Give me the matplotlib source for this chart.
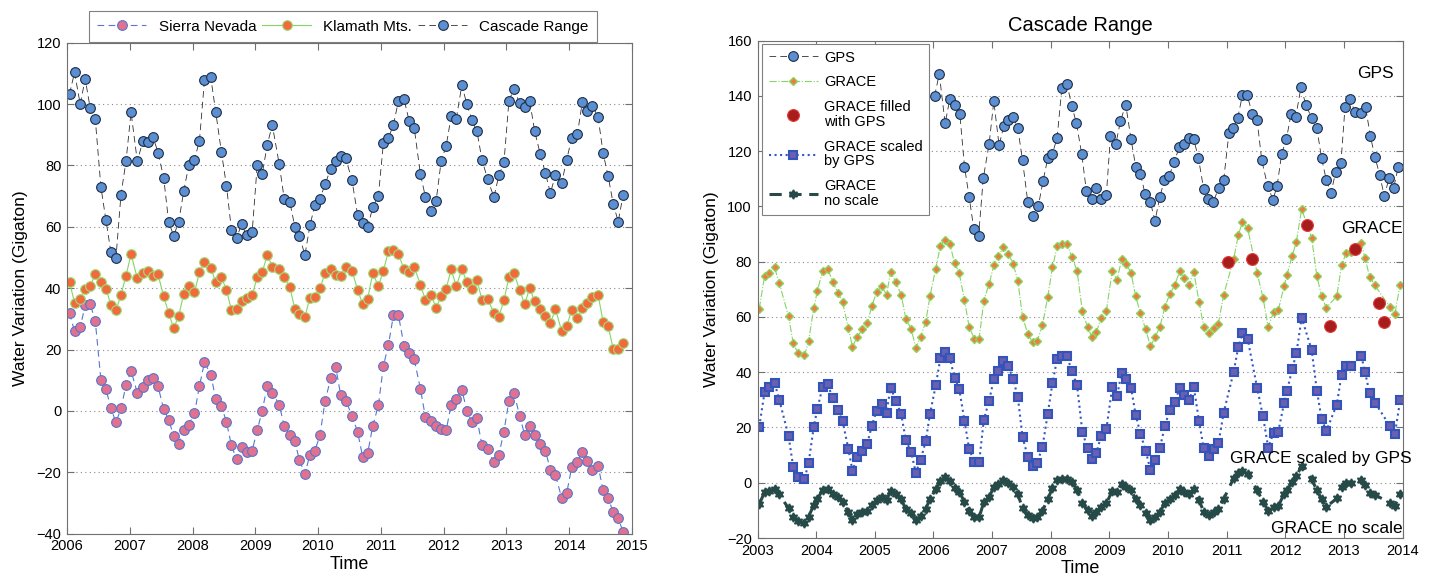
import matplotlib
matplotlib.use('Agg')
import matplotlib.pyplot as plt

plt.rcParams['font.family'] = ['Liberation Sans', 'DejaVu Sans']
plt.rcParams['axes.unicode_minus'] = True

# ---------------- Left panel data (shared epochs) ----------------
left_time = [
    2006.04, 2006.12, 2006.21, 2006.29, 2006.37, 2006.45, 2006.54, 2006.62, 2006.70, 2006.78, 2006.86, 2006.94,
    2007.02, 2007.12, 2007.21, 2007.29, 2007.37, 2007.45, 2007.54, 2007.62, 2007.70, 2007.78, 2007.86, 2007.94,
    2008.03, 2008.11, 2008.19, 2008.29, 2008.37, 2008.46, 2008.54, 2008.62, 2008.70, 2008.78, 2008.86, 2008.95,
    2009.03, 2009.11, 2009.19, 2009.27, 2009.38, 2009.46, 2009.55, 2009.63, 2009.70, 2009.79, 2009.87, 2009.95,
    2010.03, 2010.11, 2010.20, 2010.28, 2010.36, 2010.44, 2010.54, 2010.63, 2010.71, 2010.79, 2010.87, 2010.96,
    2011.04, 2011.12, 2011.20, 2011.28, 2011.37, 2011.45, 2011.53, 2011.63, 2011.71, 2011.80, 2011.88, 2011.96,
    2012.04, 2012.12, 2012.20, 2012.29, 2012.37, 2012.45, 2012.53, 2012.61, 2012.70, 2012.80, 2012.88, 2012.96,
    2013.04, 2013.12, 2013.21, 2013.29, 2013.37, 2013.45, 2013.54, 2013.62, 2013.70, 2013.78, 2013.88, 2013.96,
    2014.04, 2014.13, 2014.21, 2014.29, 2014.37, 2014.46, 2014.54, 2014.62, 2014.70, 2014.78, 2014.86]

sierra_nevada = [
    31.9, 26.0, 27.3, 34.4, 34.8, 29.4, 10.1, 7.2, 0.8, -3.7, 0.8, 8.4,
    13.1, 5.9, 7.7, 10.1, 10.6, 8.1, 0.5, -2.8, -8.3, -10.8, -6.3, -4.5,
    -0.8, 8.1, 15.9, 11.8, 3.9, 1.7, -3.7, -11.2, -15.8, -11.7, -13.3, -12.9,
    -6.3, 0.1, 8.1, 5.9, 2.1, -4.9, -7.8, -9.9, -15.9, -20.5, -14.2, -12.9,
    -7.8, 3.1, 10.6, 14.3, 5.2, 3.4, -1.5, -6.9, -15.0, -13.7, -4.9, 1.8,
    14.7, 21.5, 31.2, 31.2, 21.1, 19.0, 16.9, 7.2, -2.1, -3.3, -4.9, -5.8,
    -6.3, 2.1, 3.9, 6.8, 0.1, -3.7, -2.4, -11.2, -12.5, -16.6, -14.2, -6.7,
    3.4, 5.9, -1.5, -7.8, -4.9, -7.8, -10.8, -12.9, -19.2, -20.9, -28.3, -26.7,
    -18.4, -16.6, -13.3, -16.2, -19.3, -17.9, -25.8, -28.3, -33.0, -35.0, -39.5]

klamath_mts = [
    42.0, 35.3, 36.6, 39.9, 40.7, 44.5, 42.0, 39.9, 34.5, 32.8, 37.8, 44.1,
    51.1, 43.2, 44.9, 45.7, 44.1, 44.5, 37.3, 31.9, 26.9, 31.1, 38.2, 40.7,
    38.6, 45.2, 48.6, 46.6, 42.0, 43.6, 39.4, 32.8, 33.2, 35.7, 36.9, 37.8,
    43.6, 45.2, 50.9, 47.0, 46.1, 43.6, 40.3, 33.2, 31.6, 30.7, 36.9, 37.0,
    40.0, 44.9, 46.1, 44.4, 44.1, 47.0, 45.7, 39.4, 34.8, 36.6, 44.9, 40.7,
    45.7, 52.0, 52.4, 51.1, 46.1, 45.2, 47.0, 41.1, 36.1, 37.8, 33.6, 37.3,
    39.9, 46.1, 40.7, 46.1, 42.0, 39.9, 42.8, 36.1, 36.6, 31.9, 30.7, 36.1,
    43.6, 44.9, 39.4, 34.8, 40.0, 35.7, 33.2, 31.1, 28.5, 33.2, 26.0, 27.7,
    32.8, 30.3, 33.6, 35.3, 37.0, 37.8, 29.0, 27.7, 20.3, 20.3, 22.0]

cascade_range = [
    103.3, 110.3, 100.0, 108.2, 98.6, 95.2, 73.0, 62.2, 51.7, 49.9, 70.5, 81.4,
    97.3, 81.4, 88.0, 87.6, 89.3, 84.2, 76.0, 61.5, 57.1, 61.7, 71.7, 80.1,
    81.8, 88.1, 107.8, 108.7, 97.3, 84.3, 73.4, 58.9, 56.2, 60.9, 57.2, 58.4,
    80.1, 77.2, 86.8, 93.2, 80.5, 69.2, 68.0, 60.0, 57.1, 50.8, 60.5, 67.2,
    69.2, 73.8, 78.9, 81.4, 83.0, 82.3, 75.1, 63.8, 61.3, 60.0, 66.3, 70.1,
    87.3, 89.0, 93.2, 101.1, 101.5, 94.5, 92.3, 77.2, 69.7, 65.2, 68.5, 81.4,
    86.4, 96.1, 95.2, 106.2, 99.9, 94.8, 91.1, 81.9, 75.5, 69.7, 76.8, 81.0,
    101.1, 104.9, 100.3, 99.0, 101.1, 91.1, 83.6, 77.6, 71.0, 76.8, 74.3, 81.9,
    89.0, 90.2, 100.8, 97.8, 99.5, 95.7, 84.0, 76.5, 67.6, 61.7, 70.5]

# ---------------- Right panel data ----------------
gps_time = [
    2006.02, 2006.10, 2006.20, 2006.28, 2006.37, 2006.45, 2006.53, 2006.61, 2006.69, 2006.77, 2006.85, 2006.95,
    2007.03, 2007.12, 2007.20, 2007.28, 2007.36, 2007.44, 2007.52, 2007.61, 2007.69, 2007.79, 2007.87, 2007.95,
    2008.03, 2008.11, 2008.19, 2008.28, 2008.36, 2008.44, 2008.53, 2008.61, 2008.70, 2008.78, 2008.86, 2008.95,
    2009.02, 2009.11, 2009.19, 2009.28, 2009.37, 2009.45, 2009.53, 2009.61, 2009.70, 2009.78, 2009.86, 2009.94,
    2010.02, 2010.11, 2010.19, 2010.28, 2010.36, 2010.44, 2010.52, 2010.61, 2010.69, 2010.77, 2010.87, 2010.95,
    2011.04, 2011.11, 2011.19, 2011.27, 2011.35, 2011.44, 2011.52, 2011.60, 2011.70, 2011.79, 2011.86, 2011.94,
    2012.02, 2012.10, 2012.18, 2012.27, 2012.35, 2012.45, 2012.54, 2012.62, 2012.70, 2012.78, 2012.86, 2012.95,
    2013.02, 2013.10, 2013.19, 2013.29, 2013.37, 2013.45, 2013.53, 2013.61, 2013.69, 2013.77, 2013.85, 2013.93]

gps = [
    139.9, 147.9, 130.0, 138.9, 136.8, 133.5, 114.4, 103.3, 91.7, 89.1, 110.1, 122.6,
    138.0, 122.1, 129.0, 131.2, 132.5, 128.2, 116.6, 101.5, 96.4, 100.2, 109.2, 117.4,
    119.1, 124.8, 142.7, 144.1, 136.3, 130.0, 118.8, 105.4, 102.5, 106.8, 102.5, 104.2,
    125.6, 122.5, 130.8, 136.8, 124.3, 114.4, 111.8, 104.5, 101.5, 94.8, 103.3, 109.6,
    111.0, 116.2, 121.3, 122.5, 124.8, 124.3, 117.4, 106.2, 102.5, 101.5, 106.8, 109.6,
    126.5, 128.2, 132.0, 140.2, 140.2, 133.5, 131.2, 116.6, 107.4, 102.4, 107.2, 119.1,
    124.3, 133.5, 132.5, 143.2, 136.8, 132.0, 128.2, 117.4, 109.6, 104.9, 112.3, 115.7,
    136.0, 138.9, 134.2, 133.8, 136.0, 125.6, 117.9, 111.4, 103.7, 110.2, 106.8, 114.4]

grace_time = [
    2003.03, 2003.12, 2003.20, 2003.29, 2003.37, 2003.53, 2003.61, 2003.69, 2003.80, 2003.87, 2003.96,
    2004.02, 2004.11, 2004.20, 2004.28, 2004.37, 2004.45, 2004.55, 2004.62, 2004.70, 2004.79, 2004.87, 2004.95,
    2005.03, 2005.12, 2005.20, 2005.27, 2005.36, 2005.45, 2005.53, 2005.62, 2005.70, 2005.78, 2005.87, 2005.94,
    2006.04, 2006.12, 2006.20, 2006.28, 2006.36, 2006.44, 2006.53, 2006.61, 2006.70, 2006.78, 2006.86, 2006.95,
    2007.03, 2007.11, 2007.19, 2007.28, 2007.36, 2007.44, 2007.52, 2007.61, 2007.69, 2007.77, 2007.86, 2007.95,
    2008.03, 2008.11, 2008.20, 2008.28, 2008.36, 2008.45, 2008.54, 2008.63, 2008.70, 2008.78, 2008.86, 2008.95,
    2009.05, 2009.13, 2009.21, 2009.29, 2009.37, 2009.45, 2009.53, 2009.62, 2009.70, 2009.78, 2009.86, 2009.95,
    2010.03, 2010.12, 2010.20, 2010.28, 2010.36, 2010.44, 2010.53, 2010.61, 2010.70, 2010.78, 2010.86, 2010.95,
    2011.12, 2011.20, 2011.27, 2011.36, 2011.52, 2011.62, 2011.71, 2011.80, 2011.88, 2011.98,
    2012.03, 2012.12, 2012.19, 2012.28, 2012.45, 2012.54, 2012.62, 2012.70, 2012.88, 2012.96,
    2013.04, 2013.12, 2013.30, 2013.36, 2013.44, 2013.53, 2013.78, 2013.87, 2013.96]

grace = [
    63.0, 74.7, 75.8, 77.9, 72.3, 60.2, 50.4, 46.9, 46.1, 51.1, 63.2,
    69.3, 76.6, 77.4, 72.7, 68.8, 65.3, 55.9, 49.2, 52.8, 55.5, 57.7, 63.9,
    68.9, 71.0, 68.0, 76.2, 72.5, 68.0, 59.3, 55.6, 48.9, 52.7, 58.3, 67.4,
    77.5, 85.8, 88.0, 86.4, 79.6, 75.8, 66.1, 56.3, 52.1, 52.1, 65.9, 71.9,
    78.6, 81.9, 85.2, 82.9, 79.2, 73.1, 59.9, 53.9, 50.9, 51.4, 56.9, 67.3,
    77.9, 85.5, 86.2, 86.4, 81.7, 76.7, 62.0, 56.3, 52.8, 54.5, 59.7, 62.3,
    76.7, 73.3, 80.8, 79.3, 75.9, 67.4, 61.4, 55.5, 49.4, 52.6, 56.3, 63.7,
    68.2, 71.7, 76.5, 73.9, 71.7, 76.4, 65.5, 56.3, 54.1, 55.9, 57.6, 68.0,
    80.9, 89.6, 94.3, 92.0, 76.0, 67.0, 56.3, 61.7, 62.4, 71.0,
    75.3, 82.1, 87.2, 99.0, 88.7, 74.7, 67.5, 63.3, 67.5, 78.6,
    83.2, 83.5, 86.6, 81.3, 74.5, 71.4, 63.7, 61.1, 71.7]

grace_scaled = [
    20.3, 32.7, 34.5, 36.2, 30.1, 16.9, 5.6, 2.0, 1.3, 7.0, 20.3,
    26.6, 34.7, 35.7, 30.5, 26.3, 22.4, 12.2, 4.3, 9.3, 11.6, 13.9, 20.7,
    25.9, 28.5, 25.4, 34.4, 29.7, 24.8, 15.4, 11.1, 3.6, 8.2, 15.1, 24.8,
    35.2, 45.2, 47.3, 45.2, 37.9, 34.0, 22.4, 12.1, 7.5, 7.5, 22.8, 29.7,
    37.4, 40.4, 44.1, 42.1, 37.4, 31.0, 16.5, 9.4, 6.1, 7.3, 12.9, 25.0,
    36.0, 44.8, 45.7, 45.7, 40.4, 35.2, 18.4, 12.4, 8.6, 10.9, 16.9, 19.4,
    34.7, 31.3, 39.7, 37.4, 34.4, 24.5, 17.8, 11.6, 4.7, 8.2, 12.4, 20.7,
    26.3, 29.3, 34.4, 31.8, 29.8, 34.7, 22.3, 12.4, 9.8, 12.1, 14.2, 25.3,
    40.1, 49.1, 54.0, 52.0, 34.4, 24.1, 12.7, 18.1, 18.4, 28.7,
    33.1, 41.2, 46.8, 59.7, 48.1, 33.3, 23.1, 18.7, 28.3, 39.1,
    42.2, 42.4, 45.7, 40.1, 32.3, 29.0, 20.7, 17.6, 29.8]

grace_noscale = [
    -7.7, -3.5, -3.0, -2.2, -4.2, -9.3, -12.3, -13.9, -14.5, -12.3, -8.1,
    -5.9, -2.7, -2.4, -3.9, -5.1, -7.0, -10.5, -13.5, -11.3, -10.5, -10.1, -8.1,
    -6.3, -5.1, -6.3, -3.0, -4.1, -6.0, -9.5, -10.8, -13.5, -12.1, -9.5, -5.9,
    -2.4, 0.7, 1.9, 0.7, -1.9, -3.3, -6.9, -10.1, -12.3, -12.5, -7.0, -5.1,
    -1.7, -0.5, 1.0, 0.0, -1.7, -4.1, -9.3, -11.7, -12.9, -12.5, -10.2, -5.9,
    -2.0, 1.0, 1.3, 1.3, 0.4, -2.6, -7.5, -9.9, -12.1, -10.5, -8.7, -7.5,
    -2.9, -3.3, -0.6, -1.4, -2.6, -6.0, -8.1, -10.8, -13.5, -12.3, -10.5, -7.5,
    -6.0, -4.4, -2.4, -3.2, -4.1, -2.4, -6.3, -10.5, -11.7, -10.5, -9.5, -5.9,
    1.6, 3.6, 4.3, 3.1, -2.6, -6.9, -10.1, -8.7, -8.5, -4.1,
    -2.6, 0.1, 2.4, 6.1, 1.2, -2.6, -6.0, -8.7, -5.7, -1.4,
    0.0, 0.0, 1.0, -0.8, -3.6, -4.4, -7.2, -8.4, -3.9]

filled_time = [2011.03, 2011.44, 2012.37, 2012.77, 2013.19, 2013.60, 2013.68]
grace_filled = [79.7, 80.9, 93.4, 56.7, 84.6, 65.2, 58.0]

left_years = list(range(2006, 2016))
left_yticks = list(range(-40, 121, 20))
right_years = list(range(2003, 2015))
right_yticks = list(range(-20, 161, 20))

assert len(left_time) == len(sierra_nevada) == len(klamath_mts) == len(cascade_range)
assert len(gps_time) == len(gps)
assert len(grace_time) == len(grace) == len(grace_scaled) == len(grace_noscale)

W, H = 1432, 577
fig = plt.figure(figsize=(W / 100, H / 100), dpi=100)

def px_axes(x0, y0, x1, y1):
    return fig.add_axes([x0 / W, 1 - y1 / H, (x1 - x0) / W, (y1 - y0) / H])

spine_col = '#707070'
grid_kw = dict(linestyle=(0, (1, 3)), color='#8a8a8a', linewidth=0.8)

def style(ax):
    for s in ax.spines.values():
        s.set_color(spine_col)
        s.set_linewidth(0.8)
    ax.tick_params(direction='in', top=True, right=True, length=5, width=0.8,
                   color=spine_col, labelsize=10.5, pad=4)
    ax.yaxis.grid(True, **grid_kw)
    ax.set_axisbelow(True)

# ---------------- Left axes ----------------
axL = px_axes(67, 42.7, 632, 533.7)
style(axL)
hs, = axL.plot(left_time, sierra_nevada, linestyle=(0, (6, 4)), color='#5577cc', lw=0.8,
               marker='o', ms=7, mfc='#e2708f', mec='#5577cc', mew=0.8, label='Sierra Nevada')
hk, = axL.plot(left_time, klamath_mts, linestyle='-', color='#86d466', lw=0.8,
               marker='o', ms=7, mfc='#f06a3c', mec='#9ede7a', mew=0.8, label='Klamath Mts.')
hc, = axL.plot(left_time, cascade_range, linestyle=(0, (8, 5)), color='#303030', lw=0.6,
               marker='o', ms=7, mfc='#5b8fd2', mec='#1c2c44', mew=0.8, label='Cascade Range')
axL.set_xlim(2006, 2015)
axL.set_ylim(-40, 120)
axL.set_xticks(left_years)
axL.set_yticks(left_yticks)
axL.set_xlabel('Time', fontsize=13, labelpad=2)
axL.set_ylabel('Water Variation (Gigaton)', fontsize=12.5, labelpad=6)
legL = axL.legend(handles=[hs, hk, hc], loc='lower left', ncol=3, mode='expand',
                  bbox_to_anchor=(89 / W, 1 - 42 / H, 508 / W, 0.05),
                  bbox_transform=fig.transFigure, borderaxespad=0, fontsize=11,
                  numpoints=1, handlelength=3.2, fancybox=False, framealpha=1,
                  edgecolor='#808080', borderpad=0.55)
legL.get_frame().set_linewidth(0.8)

# ---------------- Right axes ----------------
axR = px_axes(757.5, 40.5, 1402.5, 538)
style(axR)
hg, = axR.plot(gps_time, gps, linestyle=(0, (8, 5)), color='#303030', lw=0.6,
               marker='o', ms=7, mfc='#5b8fd2', mec='#1c2c44', mew=0.8, label='GPS')
hgr, = axR.plot(grace_time, grace, linestyle='-.', color='#86d466', lw=0.8,
                marker='D', ms=4.5, mfc='#f07a42', mec='#8ad45a', mew=1.0, label='GRACE')
hf, = axR.plot(filled_time, grace_filled, linestyle='none', marker='o', ms=8.5,
               mfc='#a81c1c', mec='#e03a3a', mew=0.8, label='GRACE filled\nwith GPS')
hsc, = axR.plot(grace_time, grace_scaled, linestyle=':', color='#3557c0', lw=1.5,
                marker='s', ms=6, mfc='#6a5fb0', mec='#3355bb', mew=1.5, label='GRACE scaled\nby GPS')
hn, = axR.plot(grace_time, grace_noscale, linestyle=(0, (4, 2.5)), color='#254a48', lw=2.2,
               marker=(6, 1, 0), ms=6.5, mfc='#254a48', mec='#254a48', mew=1.2,
               label='GRACE\nno scale')
axR.set_xlim(2003, 2014)
axR.set_ylim(-20, 160)
axR.set_xticks(right_years)
axR.set_yticks(right_yticks)
axR.set_xlabel('Time', fontsize=13, labelpad=2)
axR.set_ylabel('Water Variation (Gigaton)', fontsize=12.5, labelpad=6)
axR.set_title('Cascade Range', fontsize=14.5, pad=7)

legR = axR.legend(handles=[hg, hgr, hf, hsc, hn], loc='upper left',
                  bbox_to_anchor=(762 / W, 1 - 44 / H), bbox_transform=fig.transFigure,
                  borderaxespad=0, fontsize=10.5, numpoints=1, handlelength=3.4,
                  handletextpad=0.4, labelspacing=0.75, fancybox=False, framealpha=1,
                  edgecolor='#808080', borderpad=0.45)
legR.get_frame().set_linewidth(0.8)
for t in legR.get_texts():
    t.set_linespacing(1.05)

txt_kw = dict(fontsize=12.5, ha='left', va='center', clip_on=False)
axR.text(2013.218, 148.1, 'GPS', **txt_kw)
axR.text(2012.945, 91.8, 'GRACE', **txt_kw)
axR.text(2011.058, 8.6, 'GRACE scaled by GPS', **txt_kw)
axR.text(2011.757, -16.7, 'GRACE no scale', **txt_kw)

fig.savefig('out.png', dpi=100)
